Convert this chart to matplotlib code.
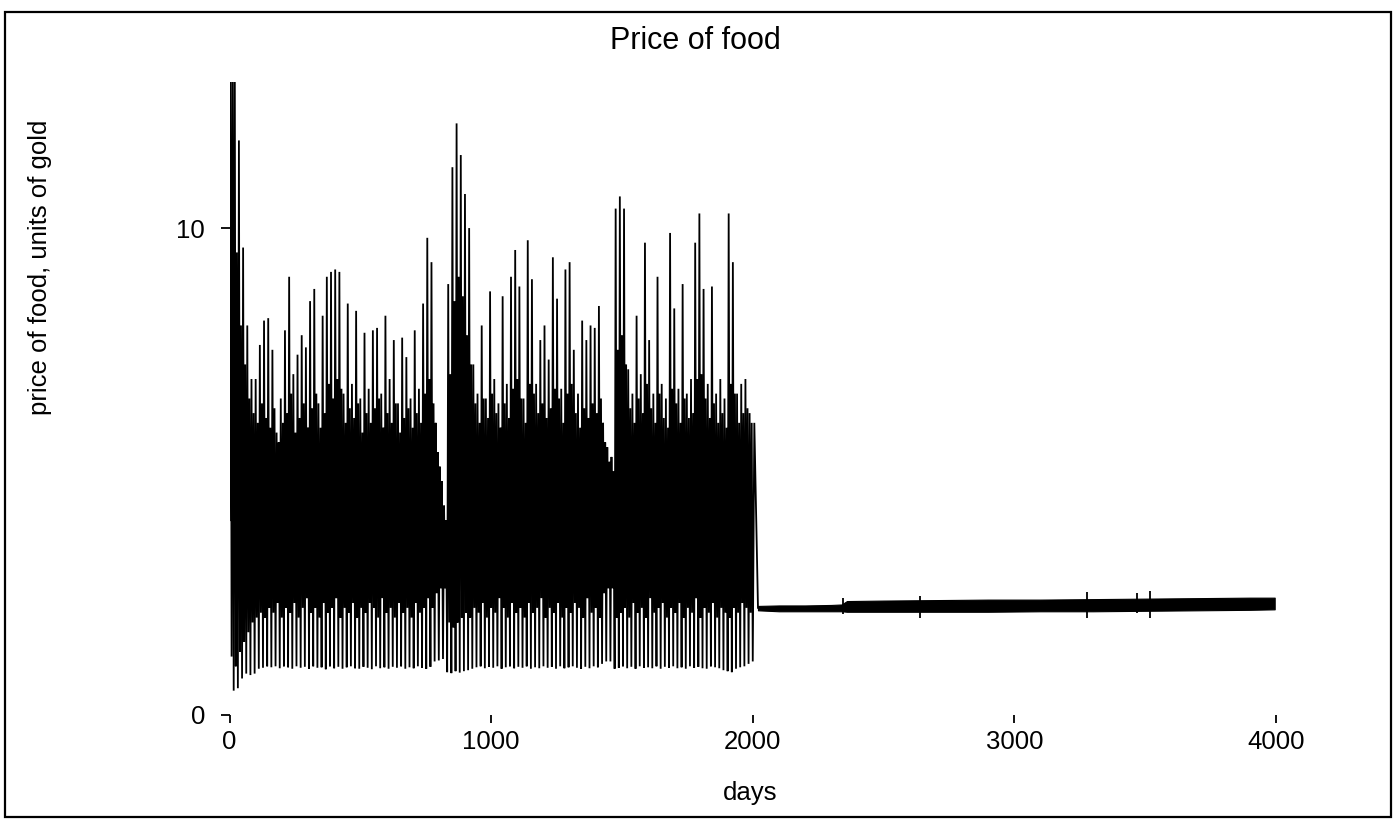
import numpy as np
import matplotlib
matplotlib.use("Agg")
import matplotlib.pyplot as plt
from matplotlib.patches import Rectangle

plt.rcParams['font.family'] = ['Liberation Sans', 'DejaVu Sans']

# ---------------- data ----------------
cycle_days = 16  # length of one price oscillation, days

# main peak price of each cycle, days 0..2000
cycle_peaks = [
    14.0, 14.0, 11.8, 9.6, 8.0, 6.9, 6.9, 7.6, 8.1, 8.15,
    7.5, 5.8, 6.5, 7.9, 9.0, 7.0, 7.4, 7.8, 7.55, 8.5,
    8.75, 6.4, 8.2, 9.0, 9.1, 9.15, 9.1, 6.6, 8.45, 6.8,
    8.3, 6.5, 7.85, 6.7, 7.9, 7.95, 6.6, 8.2, 6.9, 7.7,
    6.4, 7.75, 7.35, 6.5, 7.9, 6.7, 8.45, 9.8, 9.3, 6.0,
    5.1, 4.3, 8.85, 11.25, 12.15, 11.5, 10.7, 10.0, 7.2, 6.6,
    8.0, 6.5, 8.7, 6.9, 6.4, 8.6, 6.8, 9.0, 9.55, 8.8,
    6.5, 9.75, 8.95, 6.8, 7.7, 8.0, 7.3, 9.4, 8.55, 6.7,
    9.15, 9.3, 7.5, 6.6, 8.1, 7.7, 8.0, 7.95, 8.4, 6.0,
    5.5, 5.3, 10.4, 10.65, 10.4, 7.1, 6.6, 8.2, 7.0, 9.7,
    7.7, 6.6, 9.0, 6.8, 6.5, 9.9, 8.35, 6.7, 8.85, 6.6,
    6.9, 9.7, 10.3, 8.75, 6.8, 8.8, 6.6, 6.9, 6.5, 10.3,
    9.3, 6.6, 6.8, 6.9, 6.2,
]

# intermediate dip after the main peak of each cycle
cycle_dips = [
    1.2, 1.0, 1.3, 1.5, 1.7, 1.9, 2.0, 2.1, 2.0, 2.2,
    2.1, 2.3, 2.0, 2.2, 2.1, 2.3, 2.0, 2.2, 2.4, 2.1,
    2.2, 2.0, 2.3, 2.1, 2.2, 2.4, 2.0, 2.2, 2.1, 2.3,
    2.0, 2.2, 2.1, 2.3, 2.2, 2.0, 2.4, 2.1, 2.2, 2.0,
    2.3, 2.1, 2.2, 2.0, 2.3, 2.1, 2.2, 2.4, 2.2, 2.5,
    2.6, 2.6, 1.9, 1.8, 1.9, 2.0, 2.1, 2.0, 2.2, 2.1,
    2.3, 2.0, 2.2, 2.1, 2.4, 2.2, 2.0, 2.3, 2.1, 2.2,
    2.0, 2.3, 2.1, 2.2, 2.4, 2.0, 2.2, 2.1, 2.3, 2.0,
    2.2, 2.1, 2.3, 2.2, 2.0, 2.4, 2.1, 2.2, 2.0, 2.5,
    2.6, 2.6, 2.0, 2.1, 2.2, 2.0, 2.3, 2.1, 2.2, 2.0,
    2.4, 2.1, 2.2, 2.3, 2.0, 2.2, 2.1, 2.3, 2.0, 2.2,
    2.1, 2.4, 2.0, 2.2, 2.1, 2.3, 2.0, 2.2, 2.1, 2.0,
    2.2, 2.1, 2.3, 2.2, 2.1,
]

# secondary peak of each cycle
cycle_peaks2 = [
    13.0, 9.5, 8.0, 7.2, 6.5, 6.2, 6.0, 6.4, 6.1, 5.9,
    6.3, 5.6, 6.0, 6.2, 6.6, 5.8, 6.1, 6.4, 5.9, 6.3,
    6.6, 5.9, 6.2, 6.8, 6.5, 6.9, 6.7, 6.0, 6.3, 6.1,
    6.4, 5.8, 6.2, 6.0, 6.3, 6.5, 5.9, 6.2, 6.0, 6.4,
    5.8, 6.1, 6.3, 5.9, 6.2, 6.0, 6.6, 6.9, 6.4, 5.4,
    4.8, 4.0, 7.0, 8.5, 9.0, 8.6, 7.8, 7.2, 6.4, 6.0,
    6.5, 6.1, 6.6, 6.2, 5.9, 6.4, 6.1, 6.7, 6.9, 6.5,
    6.0, 6.8, 6.6, 6.2, 6.4, 6.1, 6.3, 6.7, 6.5, 6.0,
    6.6, 6.8, 6.2, 5.9, 6.3, 6.1, 6.4, 6.2, 6.5, 5.6,
    5.2, 5.0, 7.5, 7.8, 7.2, 6.3, 6.0, 6.5, 6.2, 6.8,
    6.3, 6.0, 6.6, 6.1, 5.9, 6.7, 6.4, 6.0, 6.5, 6.1,
    6.2, 6.9, 7.0, 6.5, 6.1, 6.4, 6.0, 6.2, 5.9, 6.8,
    6.6, 6.0, 6.2, 6.3, 6.0,
]

# trough price at the start of each cycle (and the end of the last one)
cycle_troughs = [
    4.0, 0.5, 0.55, 0.75, 0.85, 0.82, 0.85, 0.95, 0.97, 1.0,
    0.98, 1.0, 0.96, 1.0, 0.98, 0.95, 1.0, 0.97, 0.99, 0.95,
    1.0, 0.97, 0.98, 0.94, 1.0, 0.96, 0.99, 0.95, 0.98, 1.0,
    0.96, 0.95, 0.99, 0.97, 0.94, 1.0, 0.96, 0.98, 0.95, 0.99,
    0.97, 1.0, 0.95, 0.98, 0.96, 1.0, 0.97, 0.95, 0.99, 1.1,
    1.12, 1.15, 0.88, 0.86, 0.9, 0.87, 0.9, 0.92, 0.95, 0.98,
    1.0, 0.96, 0.99, 0.97, 1.0, 0.95, 0.98, 1.0, 0.96, 0.99,
    0.97, 1.0, 0.95, 0.98, 0.96, 1.0, 0.97, 0.99, 0.95, 1.0,
    0.96, 0.98, 1.0, 0.97, 0.95, 0.99, 0.96, 1.0, 0.98, 1.05,
    1.1, 1.1, 0.95, 0.97, 1.0, 0.96, 0.99, 0.95, 1.0, 0.97,
    0.98, 0.96, 1.0, 0.95, 0.99, 0.97, 1.0, 0.96, 0.98, 0.95,
    1.0, 0.97, 0.99, 0.96, 0.95, 1.0, 0.98, 0.96, 0.92, 0.9,
    0.88, 0.95, 0.98, 1.0, 1.05, 1.1,
]

# exit from the oscillating regime
exit_days = [2006, 2020]
exit_vals = [6.0, 2.2]

# stable regime: envelope of the narrow band
flat_days = [2020, 2100, 2200, 2300, 2340, 2360, 2500, 2700, 2900, 3100, 3300, 3500, 3700, 3900, 3995]
flat_low = [2.15, 2.13, 2.13, 2.13, 2.13, 2.12, 2.12, 2.12, 2.12, 2.13, 2.13, 2.14, 2.15, 2.16, 2.17]
flat_high = [2.24, 2.25, 2.25, 2.26, 2.27, 2.34, 2.35, 2.36, 2.37, 2.37, 2.38, 2.39, 2.40, 2.41, 2.41]

# isolated blips in the stable regime
blip_days = [2346, 2640, 3276, 3470, 3520]
blip_low = [2.08, 1.99, 1.99, 2.10, 2.00]
blip_high = [2.40, 2.44, 2.53, 2.50, 2.55]

x_ticks = [0, 1000, 2000, 3000, 4000]
y_ticks = [0, 10]

# ---------------- build the oscillating series ----------------
n = len(cycle_peaks)
start = cycle_days * np.arange(n)
q = cycle_days / 4
days = np.column_stack([start, start + q, start + 2 * q, start + 3 * q]).ravel()
vals = np.column_stack([cycle_troughs[:n], cycle_peaks, cycle_dips, cycle_peaks2]).ravel()
days = np.concatenate([days, [cycle_days * n], exit_days])
vals = np.concatenate([vals, [cycle_troughs[n]], exit_vals])

# ---------------- figure ----------------
W, H = 1393, 823
fig = plt.figure(figsize=(W / 100, H / 100), dpi=100)
x0, x1 = 229.5, 1276
y0, y13 = 715, 82
ax = fig.add_axes([x0 / W, (H - y0) / H, (x1 - x0) / W, (y0 - y13) / H])

ax.plot(days, vals, color='black', lw=1.3, solid_joinstyle='miter')
ax.fill_between(flat_days, flat_low, flat_high, color='black', lw=0.8, edgecolor='black')
ax.vlines(blip_days, blip_low, blip_high, color='black', lw=1.3)

ax.set_xlim(0, 4000)
ax.set_ylim(0, 13.0)
for s in ax.spines.values():
    s.set_visible(False)
ax.set_xticks(x_ticks)
ax.set_xticklabels([str(t) for t in x_ticks])
ax.set_yticks(y_ticks)
ax.set_yticklabels([str(t) for t in y_ticks])
ax.tick_params(axis='x', direction='out', length=6, width=1.3, pad=5, labelsize=18.5)
ax.tick_params(axis='y', direction='out', length=6.5, width=1.3, pad=11, labelsize=18.5)

fig.text(695 / W, 1 - 41 / H, 'Price of food', ha='center', va='center', fontsize=22)
fig.text(750 / W, 1 - 793 / H, 'days', ha='center', va='center', fontsize=18.5)
fig.text(40 / W, 1 - 267 / H, 'price of food, units of gold', ha='center', va='center',
         rotation=90, fontsize=18.5)

# scanned page frame
fig.add_artist(Rectangle((5 / W, 6 / H), 1386 / W, 805 / H, transform=fig.transFigure,
                         fill=False, lw=1.6, edgecolor='black'))

fig.savefig('out.png', dpi=100, facecolor='white')
